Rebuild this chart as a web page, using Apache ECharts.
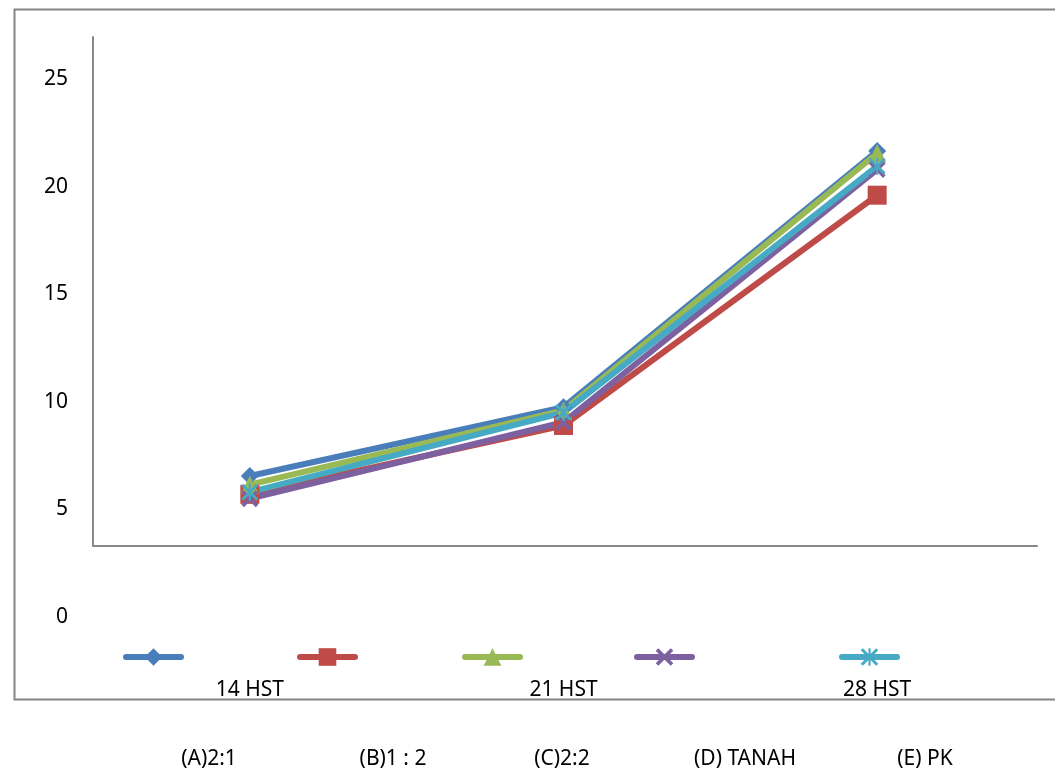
<!DOCTYPE html>
<html>
<head>
<meta charset="utf-8">
<script src="https://cdn.jsdelivr.net/npm/echarts@6/dist/echarts.min.js"></script>
<style>
  html, body { margin: 0; padding: 0; background: #fff; }
  #chart { width: 1055px; height: 772px; }
</style>
</head>
<body>
<div id="chart"></div>
<script>
const categories = ['14 HST', '21 HST', '28 HST']
const seriesNames = ['(A)2:1', '(B)1 : 2', '(C)2:2', '(D) TANAH', '(E) PK']
const valuesA = [6.55, 9.75, 21.65]
const valuesB = [5.7, 8.9, 19.6]
const valuesC = [6.15, 9.6, 21.55]
const valuesD = [5.5, 9.05, 20.8]
const valuesE = [5.8, 9.5, 20.95]
const yTicks = { min: 0, max: 25, interval: 5 }

const FONT = '"Noto Sans", "Open Sans", sans-serif'
const COLORS = ['#4A7EBB', '#BE4B48', '#98B954', '#7D60A0', '#46AAC5']
const X_SYM = 'path://M0,1.5L1.5,0L10,8.5L8.5,10Z M8.5,0L10,1.5L1.5,10L0,8.5Z'
const STAR_SYM = 'path://M0,1.2L1.2,0L10,8.8L8.8,10Z M8.8,0L10,1.2L1.2,10L0,8.8Z M4.4,0L5.6,0L5.6,10L4.4,10Z'
const SYMBOLS = [
  { symbol: 'diamond', size: 18 },
  { symbol: 'rect', size: 19 },
  { symbol: 'triangle', size: 18 },
  { symbol: X_SYM, size: 17 },
  { symbol: STAR_SYM, size: 17 },
]
const allValues = [valuesA, valuesB, valuesC, valuesD, valuesE]

// legend icons sit on their own row, text labels further down (as in the source)
const legendLeft = [118, 292, 457, 629, 834]
const labelX = [209, 393, 562, 745, 925]

const chart = echarts.init(document.getElementById('chart'), null, { renderer: 'canvas' })

chart.setOption({
  animation: false,
  backgroundColor: '#fff',
  textStyle: { fontFamily: FONT },
  grid: [
    { left: 93, right: 21, top: 79, bottom: 155 },   // data grid, matches tick labels
    { left: 93, right: 18, top: 37, bottom: 226 },   // visible axis lines
  ],
  xAxis: [
    {
      type: 'category', gridIndex: 0, data: categories,
      axisLine: { show: false }, axisTick: { show: false },
      axisLabel: { color: '#000', fontSize: 21, fontFamily: FONT, margin: 63 },
    },
    {
      type: 'category', gridIndex: 1, data: categories,
      axisLine: { lineStyle: { color: '#898989', width: 2 } },
      axisTick: { show: false }, axisLabel: { show: false },
    },
  ],
  yAxis: [
    {
      type: 'value', gridIndex: 0, min: yTicks.min, max: yTicks.max, interval: yTicks.interval,
      axisLine: { show: false }, axisTick: { show: false }, splitLine: { show: false },
      axisLabel: { color: '#000', fontSize: 21, fontFamily: FONT, margin: 25 },
    },
    {
      type: 'value', gridIndex: 1, min: 0, max: 1,
      axisLine: { show: true, lineStyle: { color: '#898989', width: 2 } },
      axisTick: { show: false }, splitLine: { show: false }, axisLabel: { show: false },
    },
  ],
  legend: seriesNames.map((name, i) => ({
    data: [name],
    left: legendLeft[i],
    top: 641,
    itemWidth: 55,
    itemHeight: 22,
    formatter: () => '',
    selectedMode: false,
    lineStyle: { width: 6, cap: 'round' },
  })),
  graphic: [
    {
      type: 'rect', left: 12, top: 7, silent: true,
      shape: { width: 1060, height: 690 },
      style: { fill: 'none', stroke: '#868686', lineWidth: 2 },
    },
    ...seriesNames.map((name, i) => ({
      type: 'text', x: labelX[i], y: 759,
      style: { text: name, fill: '#000', font: '21px ' + FONT, align: 'center', verticalAlign: 'middle' },
    })),
  ],
  series: seriesNames.map((name, i) => ({
    name,
    type: 'line',
    xAxisIndex: 0,
    yAxisIndex: 0,
    data: allValues[i],
    symbol: SYMBOLS[i].symbol,
    symbolSize: SYMBOLS[i].size,
    lineStyle: { color: COLORS[i], width: 6 },
    itemStyle: { color: COLORS[i] },
  })),
})
</script>
</body>
</html>
